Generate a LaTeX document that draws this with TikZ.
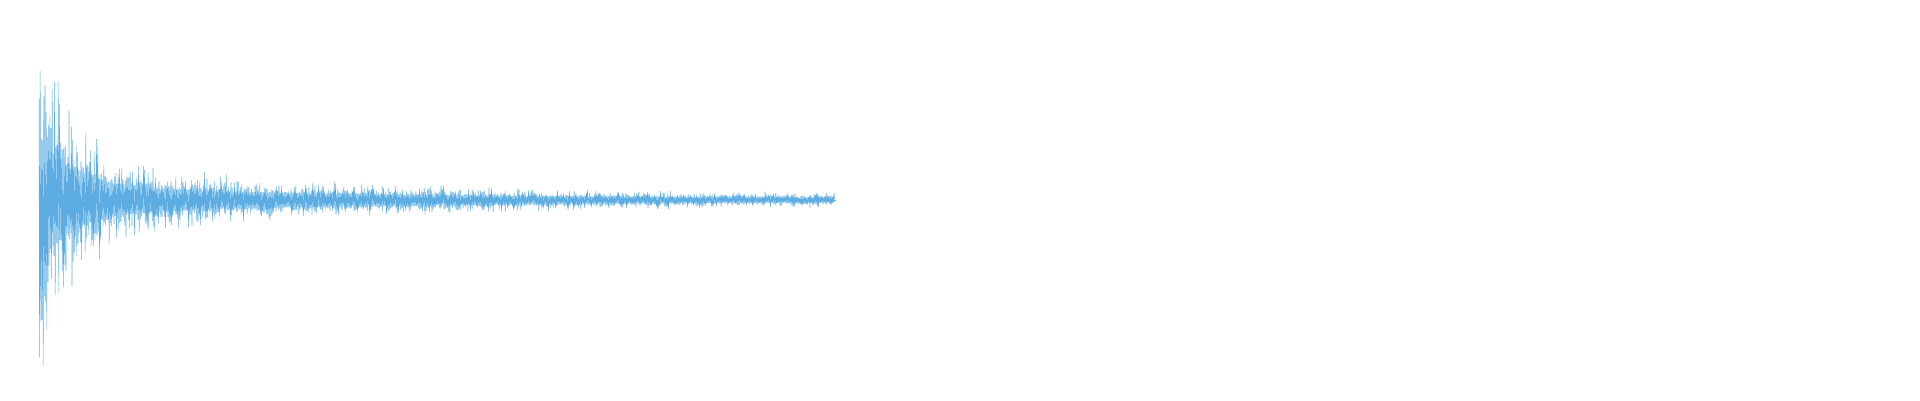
\documentclass[tikz,border=0pt]{standalone}
\definecolor{wavecol}{HTML}{5DADE2}
\tikzset{wave/.style={draw=wavecol, line width=0.5pt, line join=miter}}
\begin{document}
\begin{tikzpicture}[x=1pt,y=1pt]
\useasboundingbox (0,0) rectangle (1920,400);
\pgfmathsetseed{4711}
% decaying waveform
\draw[wave] (39,200) \foreach \i in {0,...,1326} {
  -- ({39+0.6*\i}, {200 + (-1)^\i*(6+45*exp(-0.6*\i/260)+165*exp(-0.6*\i/30))*(0.3+0.7*rnd*rnd)}) };
\draw[wave] (834,200) -- (836,200);
\end{tikzpicture}
\end{document}
